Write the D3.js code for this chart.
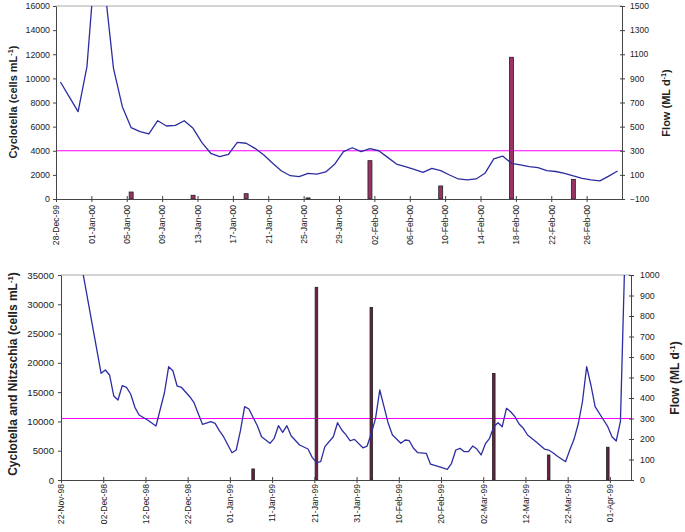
<!DOCTYPE html>
<html>
<head>
<meta charset="utf-8">
<script src="https://cdn.jsdelivr.net/npm/d3@7"></script>
<style>
body{margin:0;background:#fff;}
text{font-family:"Liberation Sans",Arial,sans-serif;fill:#222;}
</style>
</head>
<body>
<script>
// ---- top panel (days counted from 28-Dec-99) ----
var topStart = Date.UTC(1999,11,28), topEnd = Date.UTC(2000,2,1);
var topDays = [0,1,2,3,4,5,6,7,8,9,10,11,12,13,14,15,16,17,18,19,20,21,22,23,24,25,26,27,28,29,30,31,
  32,33,34,35,36,37,38,39,40,41,42,43,44,45,46,47,48,49,50,51,52,53,54,55,56,57,58,59,60,61,62,63];
var topCells = [9700,8470,7240,10970,20300,17600,10830,7650,5910,5580,5390,6490,6050,6110,6490,5860,
  4670,3790,3510,3700,4700,4620,4200,3650,2960,2320,1930,1850,2130,2070,2240,2880,
  3920,4250,3920,4170,4000,3450,2900,2680,2460,2210,2540,2350,1990,1660,1580,1660,
  2130,3320,3560,2960,2820,2680,2600,2350,2280,2130,1910,1710,1580,1500,1900,2320];
var topBarDays = [8,15,21,28,35,43,51,58];
var topFlow = [-42,-69,-56,-91,218,8,1075,63];
var topLeftTicks = [0,2000,4000,6000,8000,10000,12000,14000,16000];
var topRightTicks = [-100,100,300,500,700,900,1100,1300,1500];
var topThreshold = 300;

// ---- bottom panel (days counted from 22-Nov-98) ----
var botStart = Date.UTC(1998,10,22), botEnd = Date.UTC(1999,3,6);
var botDays = [4,9,10,11,12,13,14,15,16,17,18,20,22,24,25,26,27,28,30,31,33,35,36,37,38,40,41,42,43,44,
  46,47,49,50,51,52,53,54,56,58,59,60,61,62,64,65,66,67,68,69,71,72,73,74,75,76,77,78,80,81,82,83,84,
  86,87,89,91,92,93,94,95,96,97,98,99,100,101,102,103,104,105,106,107,108,109,110,112,114,115,116,117,
  119,120,121,122,123,124,125,126,128,129,130,131,132,133];
var botCells = [38100,18220,18780,17930,14340,13660,16100,15830,14680,12410,11100,10240,9220,14900,19350,
  18660,16050,15830,14220,13200,9510,9960,9680,8420,7390,4660,5120,8420,12520,12120,
  9270,7390,6260,7120,9270,8140,9270,7560,5980,5290,3870,2960,3130,5690,7390,9780,8540,7700,6700,6940,
  5500,5800,7970,10530,15370,12520,9680,7680,6260,6830,6710,5410,4660,
  4550,2730,2270,1830,2850,5120,5410,4830,4830,5800,5290,4270,6150,7120,9100,9780,9100,12240,11660,10810,
  9560,8830,7680,6540,5290,5120,4660,4100,3130,5120,6940,9560,13360,19350,16220,12520,10240,9100,7390,
  6660,10000,37000];
var botBarDays = [45,60,73,102,115,129];
var botFlow = [54,940,842,520,122,160];
var botLeftTicks = [0,5000,10000,15000,20000,25000,30000,35000];
var botRightTicks = [0,100,200,300,400,500,600,700,800,900,1000];
var botThreshold = 300;

var svg = d3.select("body").append("svg").attr("width",685).attr("height",532);
var fmt = d3.utcFormat("%d-%b-%y");
var num = d3.format("d");

function drawPanel(p){
  var x = d3.scaleUtc().domain([p.start,p.end]).range([p.left,p.right]);
  var yL = d3.scaleLinear().domain([p.leftTicks[0],p.leftTicks[p.leftTicks.length-1]]).range([p.bottom,p.top]);
  var yR = d3.scaleLinear().domain([p.rightTicks[0],p.rightTicks[p.rightTicks.length-1]]).range([p.bottom,p.top]);
  var mid = function(d){ return new Date(p.start + (d+0.5)*864e5); };

  svg.append("clipPath").attr("id",p.id)
    .append("rect").attr("x",p.left).attr("y",p.top)
    .attr("width",p.right-p.left).attr("height",p.bottom-p.top);

  // grey frame line along the top of the plot
  svg.append("line").attr("x1",p.left).attr("x2",p.right)
    .attr("y1",p.top).attr("y2",p.top)
    .attr("stroke","#aaa").attr("stroke-width",1.2);

  svg.append("line").attr("x1",p.left).attr("x2",p.right)
    .attr("y1",yR(p.threshold)).attr("y2",yR(p.threshold))
    .attr("stroke","#ff00ff").attr("stroke-width",1.1);

  svg.append("g").selectAll("rect")
    .data(p.barDays)
    .enter().append("rect")
      .attr("x",function(d){ return x(mid(d)) - p.barW/2; })
      .attr("y",function(d,i){ return yR(p.flow[i]); })
      .attr("width",p.barW)
      .attr("height",function(d,i){ return yR(p.rightTicks[0]) - yR(p.flow[i]); })
      .attr("fill",p.barFill)
      .attr("stroke","#222")
      .attr("stroke-width",0.8);

  var line = d3.line()
    .x(function(d){ return x(mid(d)); })
    .y(function(d,i){ return yL(p.cells[i]); });
  svg.append("path")
    .attr("clip-path","url(#"+p.id+")")
    .attr("d",line(p.days))
    .attr("fill","none")
    .attr("stroke","#2d2da3")
    .attr("stroke-width",1.3)
    .attr("stroke-linejoin","round");

  // axes
  var ax = svg.append("g").attr("transform","translate(0,"+p.bottom+")")
    .call(d3.axisBottom(x).tickValues(d3.utcDay.range(p.start,p.end,p.tickStep)).tickFormat(fmt).tickSizeOuter(0));
  ax.selectAll(".tick line").attr("y1",-3).attr("y2",3);
  ax.selectAll(".tick text")
    .attr("transform","rotate(-90)")
    .attr("text-anchor","end")
    .attr("x",-p.xLabGap).attr("y",0).attr("dy","0.33em")
    .attr("font-size",p.xFont);

  var al = svg.append("g").attr("transform","translate("+p.left+",0)")
    .call(d3.axisLeft(yL).tickValues(p.leftTicks).tickFormat(num).tickSize(3).tickSizeOuter(0).tickPadding(p.lPad));
  al.selectAll("text").attr("font-size",p.lFont);

  var ar = svg.append("g").attr("transform","translate("+p.right+",0)")
    .call(d3.axisRight(yR).tickValues(p.rightTicks).tickFormat(num).tickSize(3).tickSizeOuter(0).tickPadding(p.rPad));
  ar.selectAll(".tick line").attr("x1",-2).attr("x2",3);
  ar.selectAll("text").attr("font-size",p.rFont);

  svg.selectAll(".domain").attr("stroke","#444");
  svg.selectAll(".tick line").attr("stroke","#444");
  svg.selectAll(".tick text").attr("fill","#222");

  // axis titles
  var tl = svg.append("text")
    .attr("transform","translate("+p.lTitleX+","+p.lTitleY+") rotate(-90)")
    .attr("text-anchor","middle").attr("font-weight","bold").attr("font-size",p.titleFont);
  tl.append("tspan").text(p.leftTitle + " (cells mL");
  tl.append("tspan").attr("baseline-shift","super").attr("font-size",p.titleFont*0.65).text("-1");
  tl.append("tspan").text(")");

  var tr = svg.append("text")
    .attr("transform","translate("+p.rTitleX+","+p.rTitleY+") rotate(-90)")
    .attr("text-anchor","middle").attr("font-weight","bold").attr("font-size",p.titleFont);
  tr.append("tspan").text("Flow (ML d");
  tr.append("tspan").attr("baseline-shift","super").attr("font-size",p.titleFont*0.65).text("-1");
  tr.append("tspan").text(")");
}

drawPanel({
  id:"clipTop", start:topStart, end:topEnd, left:56, right:622, top:6, bottom:199,
  days:topDays, cells:topCells, barDays:topBarDays, flow:topFlow,
  leftTicks:topLeftTicks, rightTicks:topRightTicks, threshold:topThreshold,
  tickStep:4, barW:4, barFill:"#993366", xLabGap:6, xFont:8.6, lFont:8.8, rFont:8.5, lPad:3, rPad:5,
  titleFont:11, leftTitle:"Cyclotella", lTitleX:17, lTitleY:102, rTitleX:670, rTitleY:103
});

drawPanel({
  id:"clipBot", start:botStart, end:botEnd, left:61, right:631, top:275, bottom:480,
  days:botDays, cells:botCells, barDays:botBarDays, flow:botFlow,
  leftTicks:botLeftTicks, rightTicks:botRightTicks, threshold:botThreshold,
  tickStep:10, barW:2.6, barFill:"#6b1f45", xLabGap:4, xFont:8.6, lFont:9.6, rFont:8.8, lPad:4, rPad:6,
  titleFont:12, leftTitle:"Cyclotella and Nitzschia", lTitleX:17, lTitleY:374, rTitleX:679, rTitleY:378
});
</script>
</body>
</html>
